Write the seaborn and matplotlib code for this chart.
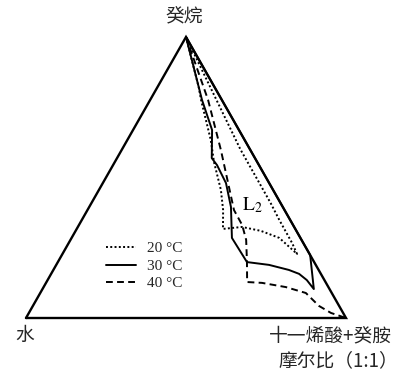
import numpy as np
import pandas as pd
import matplotlib
matplotlib.use("Agg")
import matplotlib.pyplot as plt
import seaborn as sns

sns.set_theme(style="white")
plt.rcParams["font.family"] = ["Noto Sans CJK SC", "DejaVu Sans"]
plt.rcParams["mathtext.fontset"] = "stix"

# Phase boundaries: decane mass fraction (a) and surfactant fraction (s);
# water is the remainder 1 - a - s.
t20_decane = [1.0, 0.82, 0.776, 0.633, 0.555, 0.456, 0.384, 0.317, 0.324, 0.310,
              0.285, 0.228, 0.267, 0.349, 0.409, 0.60, 0.80, 1.0]
t20_surf = [0.0, 0.13, 0.159, 0.261, 0.310, 0.381, 0.424, 0.457, 0.513, 0.579,
            0.649, 0.733, 0.698, 0.617, 0.560, 0.37, 0.185, 0.0]

t30_decane = [1.0, 0.776, 0.669, 0.569, 0.544, 0.480, 0.395, 0.285, 0.199, 0.189,
              0.171, 0.157, 0.135, 0.103, 0.224, 1.0]
t30_surf = [0.0, 0.162, 0.247, 0.296, 0.325, 0.385, 0.443, 0.501, 0.591, 0.665,
            0.736, 0.775, 0.810, 0.848, 0.776, 0.0]

t40_decane = [1.0, 0.776, 0.598, 0.384, 0.331, 0.278, 0.199, 0.128, 0.125, 0.110,
              0.089, 0.043, 0.018, 0.0]
t40_surf = [0.0, 0.181, 0.310, 0.458, 0.510, 0.549, 0.591, 0.627, 0.675, 0.757,
            0.830, 0.894, 0.944, 1.0]

temps = ["20 °C", "30 °C", "40 °C"]
styles = {"20 °C": (0, (1, 1.2)), "30 °C": "-", "40 °C": (0, (3.5, 2.2))}

H = np.sqrt(3) / 2


def to_xy(decane, surf):
    a = np.asarray(decane)
    s = np.asarray(surf)
    return s + a / 2, a * H


fig = plt.figure(figsize=(4.09, 3.73), dpi=100)
ax = fig.add_axes([0, 0, 1, 1])
ax.set_xlim(-26 / 320, 383 / 320)
ax.set_ylim(-55 / 324.5, 318 / 324.5)
ax.axis("off")

# triangle frame
ax.plot([0, 1, 0.5, 0], [0, 0, H, 0], color="black", lw=1.7,
        solid_joinstyle="miter", zorder=3)

curves = {"20 °C": (t20_decane, t20_surf),
          "30 °C": (t30_decane, t30_surf),
          "40 °C": (t40_decane, t40_surf)}
for name in temps:
    x, y = to_xy(*curves[name])
    df = pd.DataFrame({"x": x, "y": y})
    sns.lineplot(data=df, x="x", y="y", sort=False, estimator=None, ax=ax,
                 color="black", lw=1.4, linestyle=styles[name], label=name)

ax.legend(loc="center left", bbox_to_anchor=(98 / 409, 1 - 266 / 373),
          frameon=False, borderpad=0, handlelength=2.0, handletextpad=0.7,
          labelspacing=0.25, prop={"family": "Liberation Serif", "size": 11})

ax.text(0.494, 1.071 * H, "癸烷", ha="center", va="center", fontsize=13.5)
ax.text(-0.005, -17 / 324.5, "水", ha="center", va="center", fontsize=13.5)
ax.text(0.95, -18 / 324.5, "十一烯酸+癸胺", ha="center", va="center", fontsize=13.5)
ax.text(0.975, -43 / 324.5, "摩尔比（1:1）", ha="center", va="center", fontsize=13.5)
ax.text(0.706, 0.402 * H, r"$\mathrm{L}_2$", ha="center", va="center",
        fontsize=14, color="black")

fig.savefig("out.png", dpi=100)
